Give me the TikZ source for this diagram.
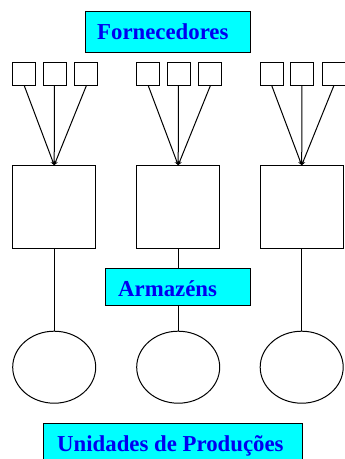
\documentclass[tikz,border=0pt]{standalone}
\usepackage{fontspec}
\setmainfont{Liberation Serif}
\usetikzlibrary{shapes.geometric,arrows.meta}
\definecolor{titlefill}{RGB}{0,255,255}
\definecolor{titletext}{RGB}{0,0,240}
\begin{document}
\begin{tikzpicture}[x=1pt,y=-1pt,
  sbox/.style={draw,line width=1pt,minimum width=23pt,minimum height=23pt,inner sep=0pt},
  bbox/.style={draw,line width=1pt,minimum width=83pt,minimum height=83pt,inner sep=0pt},
  ell/.style={draw,ellipse,line width=1pt,minimum width=83pt,minimum height=72pt,inner sep=0pt},
  tbox/.style={draw,line width=1pt,fill=titlefill,inner sep=0pt},
  ttext/.style={anchor=base west,inner sep=0pt,text=titletext,font=\fontsize{22.8}{27}\selectfont\bfseries},
  conn/.style={line width=1pt},
  feed/.style={line width=1pt,-{Stealth[length=4pt,width=4.5pt]}}
]
\useasboundingbox (0,0) rectangle (345,459);
\clip (0,0) rectangle (345,459);
\fill[white] (0,0) rectangle (345,459);

% Fornecedores title
\node[tbox,minimum width=165pt,minimum height=41pt] (forn) at (167.5,31.5) {};
\node[ttext] (fornt) at (97,39) {Fornecedores};

% groups
\foreach \g/\cx in {1/0,2/124,3/247.5}{
  \node[sbox] (s\g a) at (24.3+\cx,73.8) {};
  \node[sbox] (s\g b) at (54.5+\cx,73.8) {};
  \node[sbox] (s\g c) at (86.3+\cx,73.8) {};
  \node[bbox] (b\g) at (54.2+\cx,207.2) {};
  \node[ell] (e\g) at (54.2+\cx,367.2) {};
  \draw[feed] (s\g a.south) -- (b\g.north);
  \draw[feed] (s\g b.south) -- (b\g.north);
  \draw[feed] (s\g c.south) -- (b\g.north);
  \draw[conn] (b\g.south) -- (e\g.north);
}

% Armazens title
\node[tbox,minimum width=145pt,minimum height=37.4pt] (arm) at (177.8,287) {};
\node[ttext] (armt) at (118,296) {Armazéns};

% Unidades title
\node[tbox,minimum width=258.7pt,minimum height=50pt] (uni) at (172.65,448.3) {};
\node[ttext] (unit) at (57,451.7) {Unidades de Produções};
\end{tikzpicture}
\end{document}
